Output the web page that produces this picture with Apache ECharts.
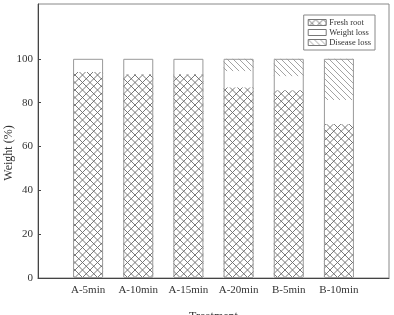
<!DOCTYPE html>
<html><head><meta charset="utf-8">
<script src="https://cdn.jsdelivr.net/npm/echarts@6/dist/echarts.min.js"></script>
<style>html,body{margin:0;padding:0;background:#fff}#c{width:394px;height:315px}</style>
</head><body><div id="c"></div>
<script>
var categories = ['A-5min','A-10min','A-15min','A-20min','B-5min','B-10min'];
var freshRoot = [94, 93, 93, 87, 85.7, 70.2];
var weightLoss = [6, 7, 7, 7.4, 6.4, 11];
var diseaseLoss = [0, 0, 0, 5.6, 7.9, 18.8];
var yTicks = [0, 20, 40, 60, 80, 100];
var seriesNames = ['Fresh root', 'Weight loss', 'Disease loss'];

function makePattern(kind) {
  var c = document.createElement('canvas');
  var w = kind === 'cross' ? 15 : 12;
  c.width = w; c.height = w;
  var g = c.getContext('2d');
  g.fillStyle = '#fff'; g.fillRect(0, 0, w, w);
  g.strokeStyle = kind === 'cross' ? '#6a6a6a' : '#999';
  g.lineWidth = 0.9;
  g.beginPath();
  for (var k = -w; k <= 2 * w; k += w / 2) {
    g.moveTo(k, 0); g.lineTo(k + w, w);
    if (kind === 'cross') { g.moveTo(k + w, 0); g.lineTo(k, w); }
  }
  g.stroke();
  return { image: c, repeat: 'repeat' };
}

var crossPat = makePattern('cross');
var diagPat = makePattern('diag');
var totals = freshRoot.map(function (v, i) { return v + weightLoss[i] + diseaseLoss[i]; });

var chart = echarts.init(document.getElementById('c'), null, { renderer: 'canvas' });
var font = 'Liberation Serif';
var common = { type: 'bar', stack: 's', barWidth: 30, barGap: '-100%', xAxisIndex: 0, yAxisIndex: 0 };
chart.setOption({
  animation: false,
  textStyle: { fontFamily: font },
  grid: [
    { left: 63, right: 30, top: 4, bottom: 37, outerBoundsMode: 'none', containLabel: false },
    { left: 38, right: 5, top: 4, bottom: 37, show: true, borderColor: '#888', borderWidth: 1,
      outerBoundsMode: 'none', containLabel: false }
  ],
  legend: {
    orient: 'vertical', right: 19, top: 15,
    itemWidth: 18, itemHeight: 6, itemGap: 1,
    padding: [3, 4, 3, 4],
    borderColor: '#888', borderWidth: 1,
    icon: 'rect',
    itemStyle: { borderColor: '#777', borderWidth: 1 },
    textStyle: { fontFamily: font, fontSize: 8.5, lineHeight: 9, color: '#333', padding: [0, 0, 0, -2] },
    data: seriesNames
  },
  xAxis: [
    { type: 'category', gridIndex: 0, data: categories, boundaryGap: true,
      axisLine: { show: false },
      axisTick: { inside: true, length: 3, alignWithLabel: true, lineStyle: { color: '#444' } },
      axisLabel: { fontFamily: font, fontSize: 11, color: '#333', margin: 7, interval: 0 },
      splitLine: { show: false } },
    { type: 'value', gridIndex: 1, min: 0, max: 1,
      name: 'Treatment', nameLocation: 'middle', nameGap: 33, nameMoveOverlap: false,
      nameTextStyle: { fontFamily: font, fontSize: 12, color: '#333' },
      axisLine: { show: true, lineStyle: { color: '#444', width: 1 } },
      axisTick: { show: false }, axisLabel: { show: false }, splitLine: { show: false } }
  ],
  yAxis: [
    { type: 'value', gridIndex: 0, min: 0, max: 125,
      axisLine: { show: false }, axisTick: { show: false }, axisLabel: { show: false }, splitLine: { show: false } },
    { type: 'value', gridIndex: 1, min: 0, max: 125, interval: 20,
      name: 'Weight (%)', nameLocation: 'middle', nameGap: 23, nameRotate: 90, nameMoveOverlap: false,
      nameTextStyle: { fontFamily: font, fontSize: 12, color: '#333', padding: [0, 24, 0, 0] },
      axisLine: { show: true, lineStyle: { color: '#444', width: 1 } },
      axisTick: { show: true, inside: true, length: 3, lineStyle: { color: '#444' }, customValues: yTicks },
      axisLabel: { fontFamily: font, fontSize: 11, color: '#333', margin: 5, customValues: yTicks },
      splitLine: { show: false } }
  ],
  series: [
    Object.assign({ name: seriesNames[0], data: freshRoot,
      itemStyle: { color: crossPat, borderWidth: 0 } }, common),
    Object.assign({ name: seriesNames[1], data: weightLoss,
      itemStyle: { color: '#fff', borderWidth: 0 } }, common),
    Object.assign({ name: seriesNames[2], data: diseaseLoss,
      itemStyle: { color: diagPat, borderWidth: 0 } }, common),
    { name: 'outline', type: 'bar', barWidth: 30, barGap: '-100%', data: totals, z: 5,
      silent: true, itemStyle: { color: 'transparent', borderColor: '#999', borderWidth: 1 } }
  ]
});
</script></body></html>
